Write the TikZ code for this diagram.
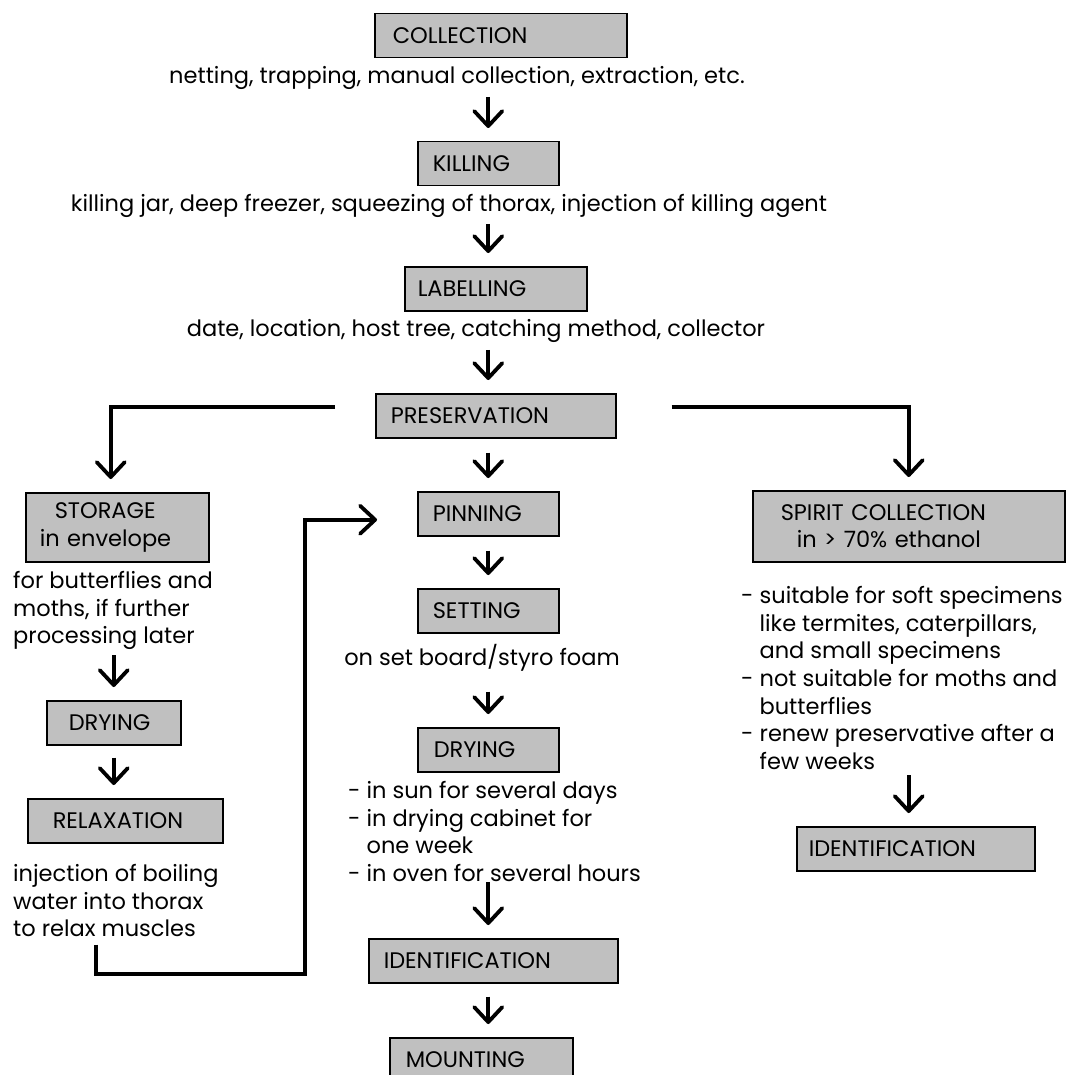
\documentclass[tikz,border=0pt]{standalone}
\usepackage{fontspec}
\setmainfont{Poppins}
\usepackage{tikz}
\usetikzlibrary{positioning,arrows.meta,calc}
\definecolor{sgray}{HTML}{C0C0C0}
\newcommand{\fnt}{\fontsize{22.5pt}{27.7pt}\selectfont}
\hyphenpenalty=10000
\exhyphenpenalty=10000

\begin{document}
\begin{tikzpicture}[x=1pt, y=1pt,
  stage/.style={rectangle, draw=black, line width=1.5pt, fill=sgray, font=\fnt,
    align=left, anchor=north west, inner xsep=15pt, inner ysep=0pt, minimum height=44pt},
  txt/.style={inner sep=0pt, align=left, font=\fnt},
  arr/.style={-{Straight Barb[length=15pt,width=28pt,round]}, line width=3.8pt, shorten >=13pt}
]
\useasboundingbox (0,0) rectangle (1066,-1075);
\clip (0,0) rectangle (1066,-1075);

% main column
\node[stage, text width=216pt, inner xsep=18pt] (coll) at (374,-13) {COLLECTION};
\node[txt, anchor=north] (netting) at (457,-63.8) {\strut netting, trapping, manual collection, extraction, etc.};
\node[stage, text width=111pt] (kill) at (417,-141) {KILLING};
\node[txt, anchor=north] (killtxt) at (449,-191.8) {\strut killing jar, deep freezer, squeezing of thorax, injection of killing agent};
\node[stage, text width=156pt, inner xsep=13pt] (lab) at (404,-266) {LABELLING};
\node[txt, anchor=north] (datetxt) at (476,-316.8) {\strut date, location, host tree, catching method, collector};
\node[stage, text width=210pt] (pres) at (375,-393) {PRESERVATION};
\node[stage, text width=111pt] (pin) at (417,-491) {PINNING};
\node[stage, text width=111pt] (set) at (417,-588) {SETTING};
\node[txt, anchor=north] (settxt) at (482,-643.8) {\strut on set board/styro foam};
\node[stage, text width=109pt, inner xsep=16pt] (dry2) at (417,-727) {DRYING};
\node[txt, anchor=north west] (drylist) at (348,-778.8) {\strut - in sun for several days\\
  - in drying cabinet for\\ \hphantom{- }one week\\ - in oven for several hours};
\node[stage, text width=219pt] (ident) at (368,-938) {IDENTIFICATION};
\node[stage, text width=151pt, inner xsep=16pt] (mount) at (389,-1037) {MOUNTING};

% left branch
\node[stage, text width=155pt, inner xsep=14pt, minimum height=69pt] (stor) at (25,-492)
  {\hspace*{15pt}STORAGE\\in envelope};
\node[txt, anchor=north west] (stortxt) at (13,-568.8) {\strut for butterflies and\\
  moths, if further\\ processing later};
\node[stage, text width=90pt, inner xsep=22pt] (dry1) at (46,-700) {DRYING};
\node[stage, text width=145pt, inner xsep=25pt] (relax) at (27,-798) {RELAXATION};
\node[txt, anchor=north west] (relaxtxt) at (13,-861.8) {\strut injection of boiling\\
  water into thorax\\ to relax muscles};

% right branch
\node[stage, text width=256pt, inner xsep=28pt, minimum height=71pt] (spirit) at (752,-490)
  {SPIRIT COLLECTION\\\hspace*{16pt}in > 70\% ethanol};
\node[txt, anchor=north west] (spiritlist) at (741,-583.8) {\strut - suitable for soft specimens\\
  \hphantom{- }like termites, caterpillars,\\ \hphantom{- }and small specimens\\
  - not suitable for moths and\\ \hphantom{- }butterflies\\
  - renew preservative after a\\ \hphantom{- }few weeks};
\node[stage, text width=214pt, inner xsep=12pt] (ident2) at (796,-826) {IDENTIFICATION};

% arrows, main column
\draw[arr, shorten <=5pt] (pin |- netting.south) -- (pin |- kill.north);
\draw[arr, shorten <=4pt] (pin |- killtxt.south) -- (pin |- lab.north);
\draw[arr, shorten <=5pt] (pin |- datetxt.south) -- (pin |- pres.north);
\draw[arr, shorten <=14pt] (pin |- pres.south) -- (pin.north);
\draw[arr, shorten <=14pt] (pin.south) -- (set.north);
\draw[arr, shorten <=18pt] (pin |- settxt.south) -- (dry2.north);
\draw[arr] (pin |- drylist.south) -- (pin |- ident.north);
\draw[arr, shorten <=13pt] (pin |- ident.south) -- (pin |- mount.north);

% arrows, left branch
\draw[arr] ([xshift=-40pt,yshift=8.5pt]pres.west) -| ([xshift=-6.5pt]stor.north);
\draw[arr, shorten <=5pt] (dry1.north |- stortxt.south) -- (dry1.north);
\draw[arr, shorten <=12pt] (dry1.south) -- (dry1.south |- relax.north);
\draw[arr, shorten >=0pt] ([xshift=83pt,yshift=-7.5pt]relaxtxt.south west) |- ++(209,-29)
  |- ([xshift=-40pt,yshift=-6pt]pin.west);

% arrows, right branch
\draw[arr] ([xshift=55pt,yshift=8.5pt]pres.east) -| (spirit.north);
\draw[arr, shorten <=5pt] (spirit.south |- spiritlist.south) -- (spirit.south |- ident2.north);
\end{tikzpicture}
\end{document}
